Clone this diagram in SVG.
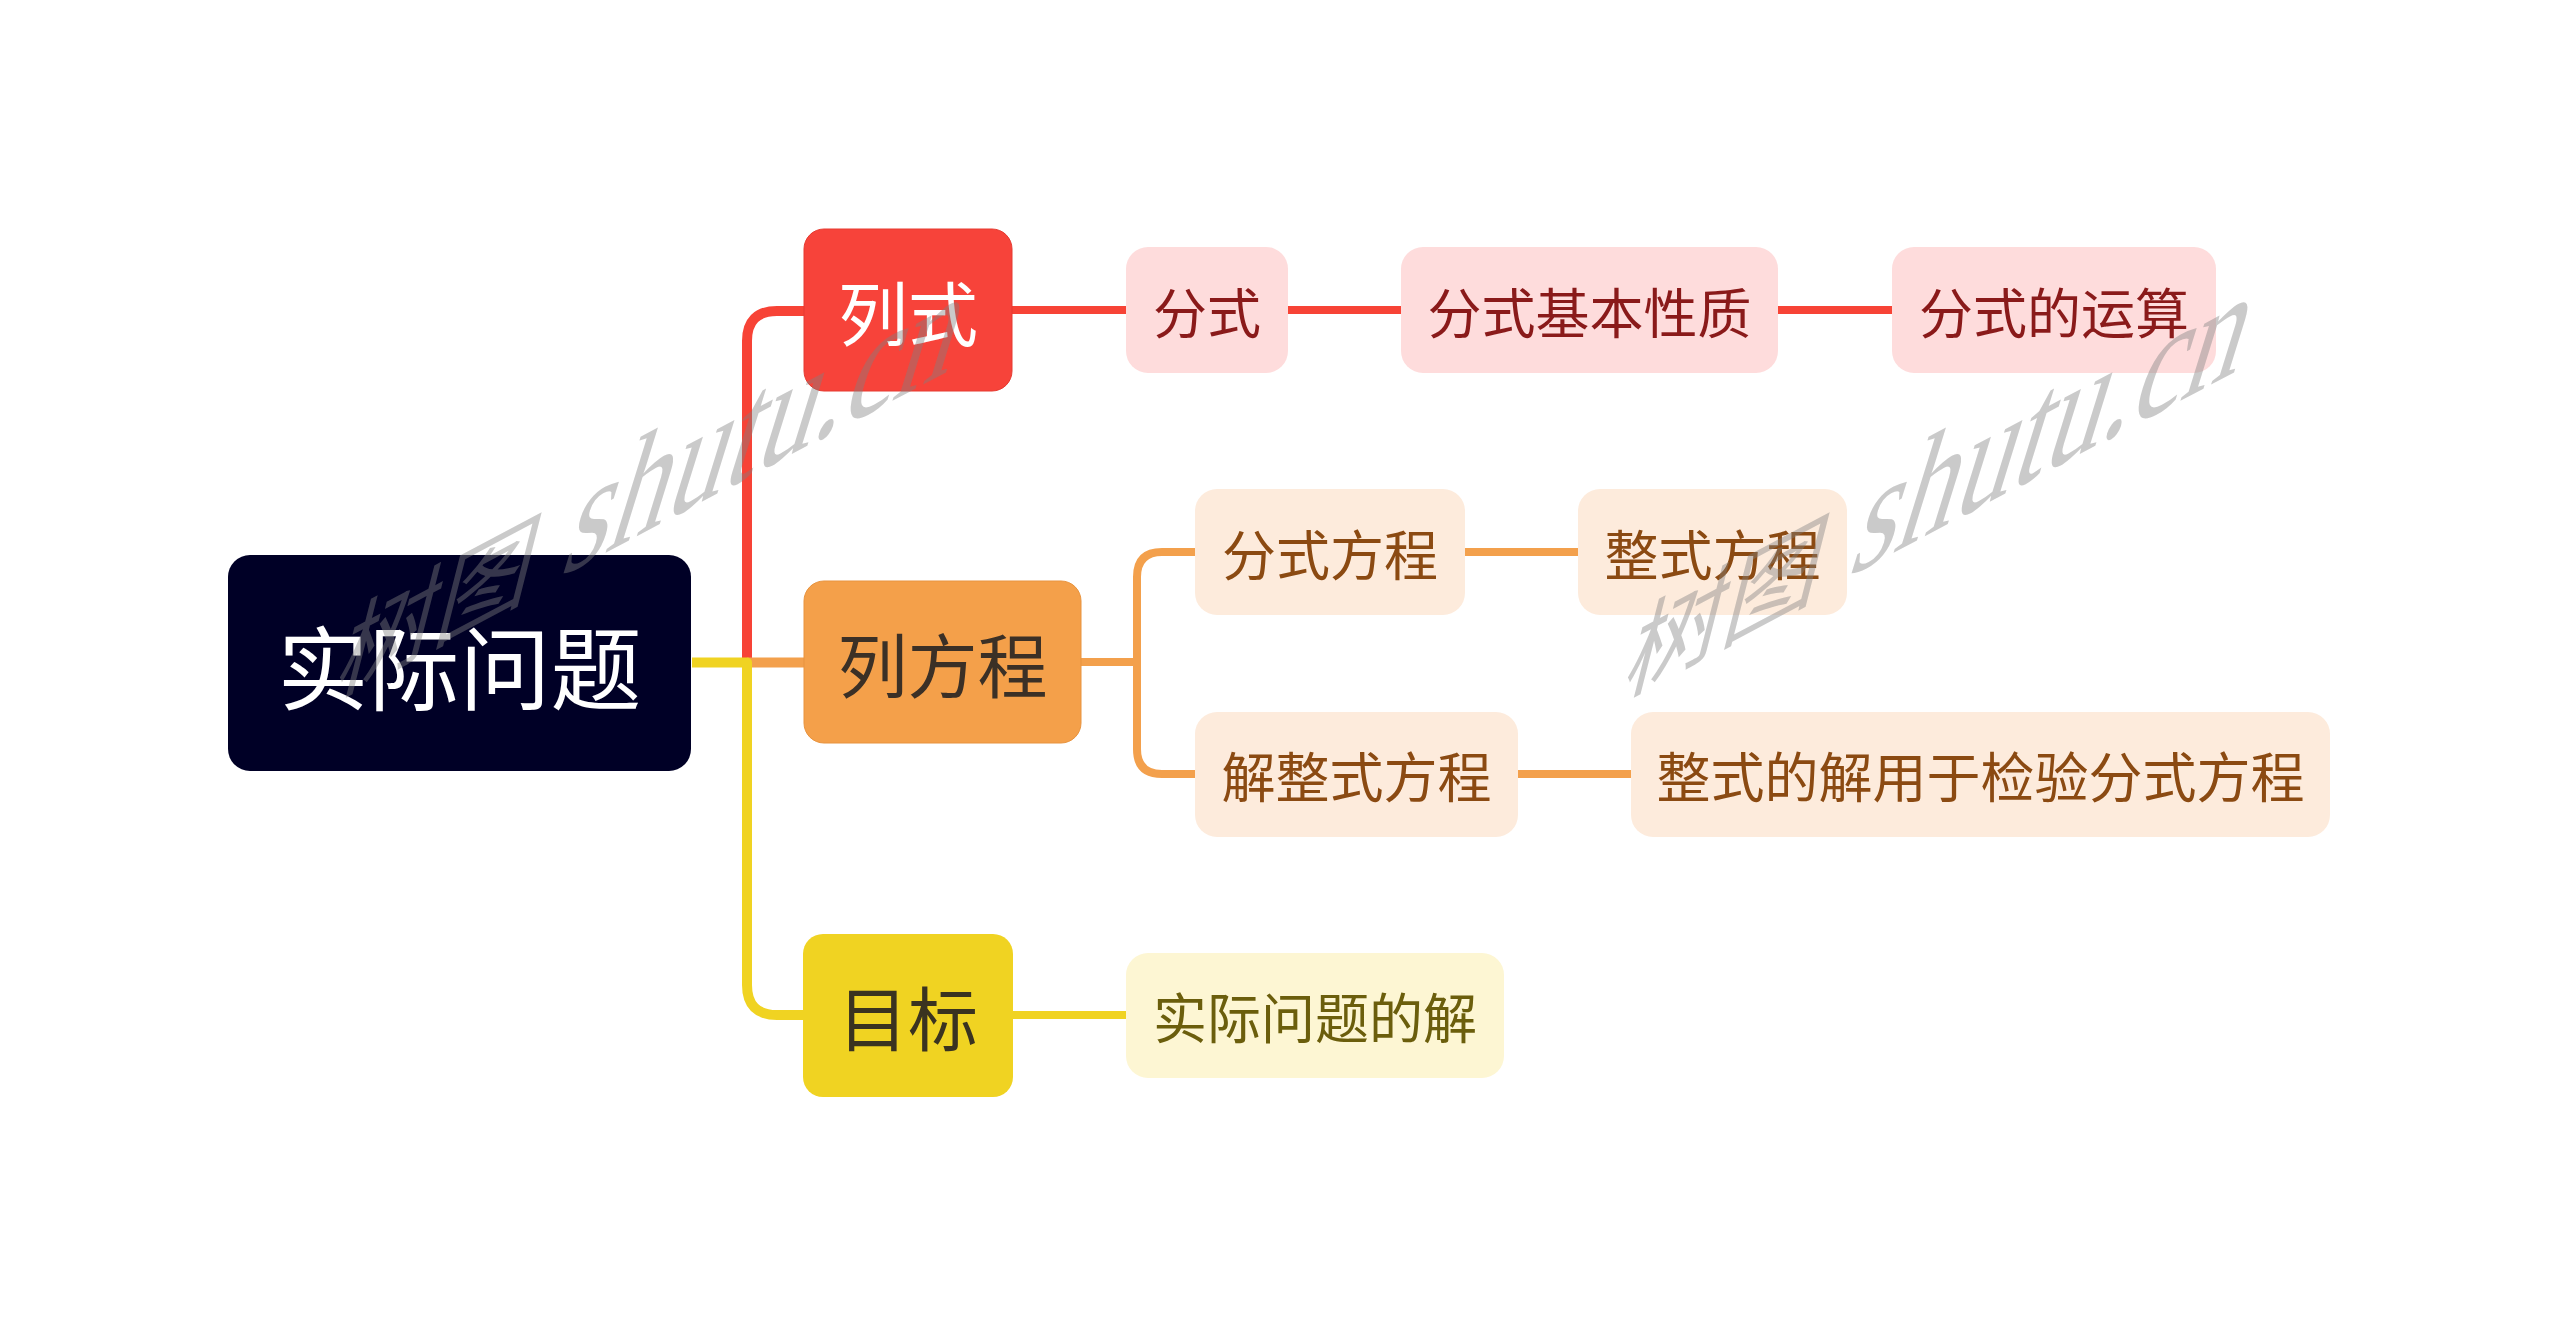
<svg xmlns="http://www.w3.org/2000/svg" width="2560" height="1326" viewBox="0 0 2560 1326">
<style>
text{font-family:"Noto Sans CJK SC","Noto Sans",sans-serif;dominant-baseline:central;text-anchor:middle}
.l0{font-size:91px;fill:#ffffff}
.l1{font-size:70px}
.l2{font-size:54px}
.c1{fill:none;stroke-width:10;stroke-linejoin:round}
.c2{fill:none;stroke-width:8;stroke-linejoin:round}
.red{stroke:#F74336}
.org{stroke:#F3A04C}
.yel{stroke:#F0D322}
.pk rect{fill:#FEDCDC}
.pk text{fill:#8A1A1A}
.pc rect{fill:#FDEBDC}
.pc text{fill:#8B4A12}
.py rect{fill:#FDF6D3}
.py text{fill:#6B5E0C}
.wm text{fill:#808080;fill-opacity:0.42;dominant-baseline:alphabetic;text-anchor:start}
.wm .lat{font-family:"Liberation Serif",serif;font-size:116px}
.wm .cjk{font-size:98px}
</style>
<rect width="2560" height="1326" fill="#ffffff"/>
<g id="connectors">
<path class="c1 red" d="M747,662 V341 Q747,311 777,311 H806"/>
<path class="c1 org" d="M747,662.5 H806"/>
<path class="c1 yel" d="M692,662.5 H747 V985 Q747,1015 777,1015 H805"/>
<path class="c2 red" d="M1012,310 H1127"/>
<path class="c2 red" d="M1288,310 H1402"/>
<path class="c2 red" d="M1778,310 H1893"/>
<path class="c2 org" d="M1081,662 H1137"/>
<path class="c2 org" d="M1196,552 H1162 Q1137,552 1137,577 V749 Q1137,774 1162,774 H1196"/>
<path class="c2 org" d="M1465,552 H1579"/>
<path class="c2 org" d="M1518,774 H1632"/>
<path class="c2 yel" d="M1013,1015 H1127"/>
</g>
<g id="root">
<rect x="228" y="555" width="463" height="216" rx="22" fill="#000026"/>
<text class="l0" x="459.5" y="663">实际问题</text>
</g>
<g id="n-lieshi">
<rect x="804" y="229" width="208" height="162" rx="20" fill="#F7433A" stroke="#E63A30" stroke-width="1"/>
<text class="l1" x="908" y="310" fill="#ffffff">列式</text>
</g>
<g id="n-liefangcheng">
<rect x="804" y="581" width="277" height="162" rx="20" fill="#F4A04A" stroke="#E8933E" stroke-width="1"/>
<text class="l1" x="942.5" y="662" fill="#3B3026">列方程</text>
</g>
<g id="n-mubiao">
<rect x="803" y="934" width="210" height="163" rx="20" fill="#F0D322"/>
<text class="l1" x="908" y="1015.5" fill="#3A3320">目标</text>
</g>
<g id="n-fenshi" class="pk">
<rect x="1126" y="247" width="162" height="126" rx="22"/>
<text class="l2" x="1207" y="310">分式</text>
</g>
<g id="n-jibenxingzhi" class="pk">
<rect x="1401" y="247" width="377" height="126" rx="22"/>
<text class="l2" x="1589.5" y="310">分式基本性质</text>
</g>
<g id="n-yunsuan" class="pk">
<rect x="1892" y="247" width="324" height="126" rx="22"/>
<text class="l2" x="2054" y="310">分式的运算</text>
</g>
<g id="n-fenshifangcheng" class="pc">
<rect x="1195" y="489" width="270" height="126" rx="22"/>
<text class="l2" x="1330" y="552">分式方程</text>
</g>
<g id="n-zhengshifangcheng" class="pc">
<rect x="1578" y="489" width="269" height="126" rx="22"/>
<text class="l2" x="1712.5" y="552">整式方程</text>
</g>
<g id="n-jiezhengshi" class="pc">
<rect x="1195" y="712" width="323" height="125" rx="22"/>
<text class="l2" x="1356.5" y="774.5">解整式方程</text>
</g>
<g id="n-jianyan" class="pc">
<rect x="1631" y="712" width="699" height="125" rx="22"/>
<text class="l2" x="1980.5" y="774.5">整式的解用于检验分式方程</text>
</g>
<g id="n-shijijie" class="py">
<rect x="1126" y="953" width="378" height="125" rx="22"/>
<text class="l2" x="1315" y="1015.5">实际问题的解</text>
</g>
<g class="wm">
<text class="cjk" x="-226" y="0" transform="matrix(1,-0.53,-0.28,1.1,558,578)">树图</text>
<text class="lat" x="0" y="0" transform="matrix(1,-0.53,-0.45,1.45,558,578)">shutu.cn</text>
<text class="cjk" x="-226" y="0" transform="matrix(1,-0.53,-0.28,1.1,1846,578)">树图</text>
<text class="lat" x="0" y="0" transform="matrix(1,-0.53,-0.45,1.45,1846,578)">shutu.cn</text>
</g>
</svg>
